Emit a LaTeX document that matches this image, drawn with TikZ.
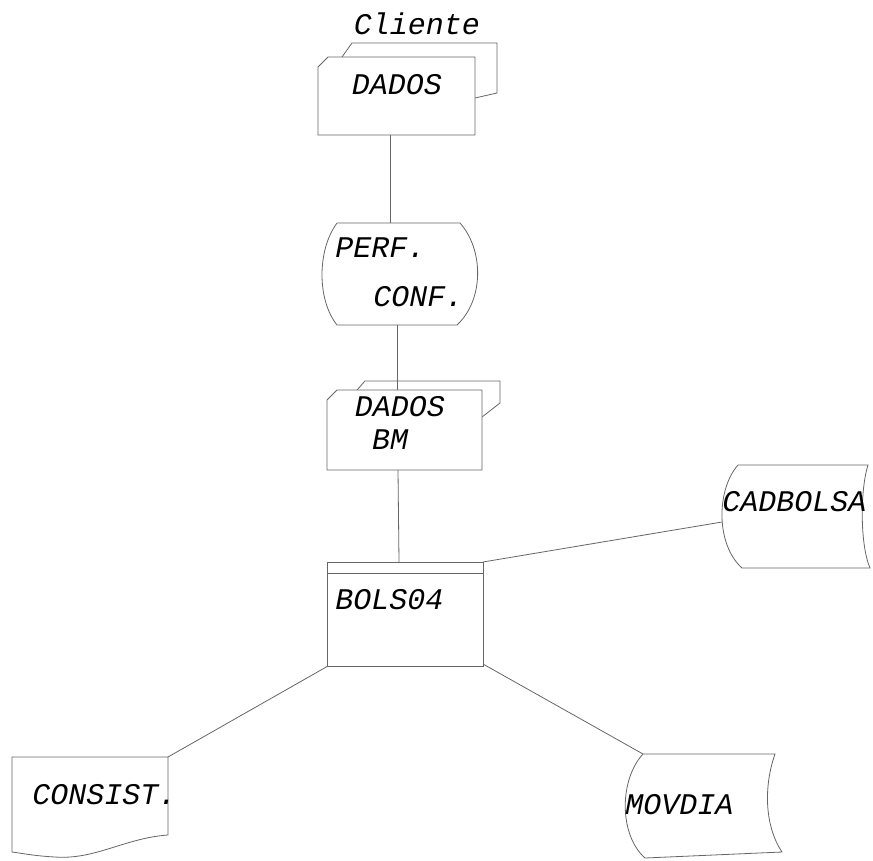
\documentclass[tikz,border=0pt]{standalone}
\usepackage{fontspec}
\setmonofont{Liberation Mono}
\begin{document}
\begin{tikzpicture}[x=1pt,y=-1pt,line width=.8pt,color=black!60,
lbl/.style={font=\ttfamily\itshape\fontsize{30}{34}\selectfont,text=black,inner sep=0pt}]
\useasboundingbox[fill=white](0,0)rectangle(873,860);
% cliente dados
\draw(342,57)--(352,43)--(497,43)--(497,93)--(475,98);
\draw[fill=white](318,67)--(328,57)--(475,57)--(475,135)--(318,135)--cycle;
\node[lbl](cli) at(417,24){Cliente};
\node[lbl](dados) at(397,85){DADOS};
\coordinate(dados-s) at(390,135);
% perf. conf.
\draw(337,223)--(460,223)..controls(484,250)and(484,300)..(457,325)--(337,325)..controls(317,300)and(317,250)..(337,223);
\node[lbl,anchor=west](perf) at(335,248){PERF.};
\node[lbl,anchor=west](conf) at(373,297){CONF.};
\coordinate(perf-n) at(390,223);
\coordinate(perf-s) at(397,325);
% dados bm
\draw(357,390)--(365,381)--(500,381)--(500,403)--(482,417);
\draw[fill=white](327,400)--(337,390)--(482,390)--(482,470)--(327,470)--cycle;
\node[lbl](bmdados) at(400,407){DADOS};
\node[lbl](bm) at(390,440){BM};
\coordinate(bm-n) at(397,390);
\coordinate(bm-s) at(398,470);
% bols04
\draw(327,562)rectangle(483,666);
\draw(327,573)--(483,573);
\node[lbl,anchor=west](bols) at(335,600){BOLS04};
\coordinate(bols-n) at(399,562);
\coordinate(bols-ne) at(483,562);
\coordinate(bols-sw) at(328,666);
\coordinate(bols-se) at(483,664);
% cadbolsa
\draw(738,465)--(868,465)..controls(860,490)and(860,545)..(870,568)--(742,568)..controls(716,545)and(716,490)..(738,465);
\node[lbl,anchor=west](cad) at(722,502){CADBOLSA};
\coordinate(cad-w) at(722,522);
% consist.
\draw(12,757)--(168,757)--(168,835)..controls(125,838)and(95,860)..(55,857)..controls(35,856)and(20,853)..(12,852)--cycle;
\node[lbl,anchor=west](con) at(32,795){CONSIST.};
\coordinate(con-ne) at(168,757);
% movdia
\draw(643,754)--(775,754)..controls(764,785)and(764,825)..(782,852)--(645,858)..controls(619,835)and(619,780)..(643,754);
\node[lbl,anchor=west](mov) at(625,805){MOVDIA};
\coordinate(mov-nw) at(643,754);
% ligacoes
\draw(dados-s)--(perf-n);
\draw(perf-s)--(bm-n);
\draw(bm-s)--(bols-n);
\draw(bols-ne)--(cad-w);
\draw(bols-sw)--(con-ne);
\draw(bols-se)--(mov-nw);
\end{tikzpicture}
\end{document}
